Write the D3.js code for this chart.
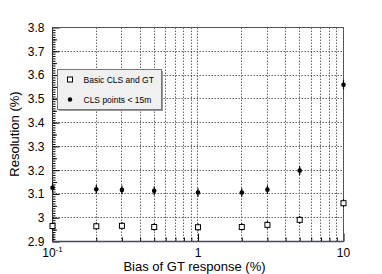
<!DOCTYPE html>
<html>
<head>
<meta charset="utf-8">
<script src="https://cdn.jsdelivr.net/npm/d3@7"></script>
<style>
  body { margin: 0; background: #fff; }
  svg { font-family: "Liberation Sans", Arial, sans-serif; }
</style>
</head>
<body>
<svg id="chart" width="382" height="274"></svg>
<script>
"use strict";

// ==========================
// data
// ==========================
var biasValues = [0.1, 0.2, 0.3, 0.5, 1, 2, 3, 5, 10];
var basicRes = [2.965, 2.964, 2.966, 2.961, 2.960, 2.961, 2.970, 2.991, 3.061];
var basicErr = [0.016, 0.016, 0.016, 0.016, 0.016, 0.016, 0.016, 0.016, 0.017];
var closeRes = [3.126, 3.120, 3.117, 3.113, 3.106, 3.106, 3.118, 3.198, 3.559];
var closeErr = [0.018, 0.018, 0.018, 0.018, 0.018, 0.018, 0.018, 0.018, 0.019];
var yTicks = [2.9, 3.0, 3.1, 3.2, 3.3, 3.4, 3.5, 3.6, 3.7, 3.8];
var legendLabels = ["Basic CLS and GT", "CLS points < 15m"];

// ==========================
// frame
// ==========================
var svg = d3.select("#chart"),
    margin = { top: 27, right: 39, bottom: 33, left: 52 },
    width = +svg.attr("width") - margin.left - margin.right,
    height = +svg.attr("height") - margin.top - margin.bottom,
    g = svg.append("g").attr("transform", "translate(" + (margin.left + 0.5) + "," + (margin.top + 0.5) + ")");

var x = d3.scaleLog().domain([0.1, 10]).range([0, width]),
    y = d3.scaleLinear().domain([2.9, 3.8]).range([height, 0]);

// every log tick between 0.1 and 10
var logTicks = [];
[0.1, 1].forEach(function (base) {
  for (var k = 1; k < 10; k++) logTicks.push(+(base * k).toFixed(2));
});
logTicks.push(10);

// grid
var grid = g.append("g").attr("class", "grid");
grid.selectAll("line.gx").data(logTicks.slice(1, -1)).enter().append("line")
  .attr("class", "gx")
  .attr("x1", function (d) { return Math.round(x(d)); }).attr("x2", function (d) { return Math.round(x(d)); })
  .attr("y1", 0).attr("y2", height);
grid.selectAll("line.gy").data(yTicks.slice(1, -1)).enter().append("line")
  .attr("class", "gy")
  .attr("x1", 0).attr("x2", width)
  .attr("y1", function (d) { return Math.round(y(d)); }).attr("y2", function (d) { return Math.round(y(d)); });
grid.selectAll("line")
  .style("stroke", "#666").style("stroke-width", "1px").style("stroke-dasharray", "1.5,1.5");

// y axis: ticks inside
var yMinor = d3.range(291, 380).map(function (d) { return d / 100; });
g.append("g").call(d3.axisLeft(y).tickValues(yMinor).tickSize(-3).tickFormat(""))
  .call(function (a) { a.select(".domain").remove(); });
g.append("g").call(d3.axisLeft(y).tickValues(yTicks.map(function (d) { return d + 0.05; }).slice(0, -1)).tickSize(-4.5).tickFormat(""))
  .call(function (a) { a.select(".domain").remove(); });
var yAxis = g.append("g").call(d3.axisLeft(y).tickValues(yTicks).tickSize(-7).tickPadding(8)
  .tickFormat(function (d) { return d3.format("~g")(d); }));
yAxis.select(".domain").remove();
yAxis.selectAll("text").style("font-size", "12px").attr("fill", "#000");

// x axis: ticks inside
var xAxis = g.append("g").attr("transform", "translate(0," + height + ")")
  .call(d3.axisBottom(x).tickValues(logTicks).tickSize(-4).tickFormat(""));
xAxis.select(".domain").remove();
xAxis.selectAll(".tick line").filter(function (d) { return d === 0.1 || d === 1 || d === 10; })
  .attr("y2", -8);

var xLabels = g.append("g").attr("transform", "translate(0," + (height + 15.5) + ")")
  .style("font-size", "12px").attr("text-anchor", "middle");
var lab = xLabels.append("text").attr("x", x(0.1));
lab.append("tspan").text("10");
lab.append("tspan").attr("dy", -5).style("font-size", "8px").text("-1");
xLabels.append("text").attr("x", x(1)).text("1");
xLabels.append("text").attr("x", x(10)).text("10");

// frame box
g.append("rect").attr("width", width).attr("height", height)
  .attr("fill", "none").attr("stroke", "#555").attr("stroke-width", 1);
g.append("line").attr("x1", 0).attr("x2", width).attr("y1", height).attr("y2", height)
  .attr("stroke", "#4a4a5a").attr("stroke-width", 1.5);
g.append("line").attr("x1", 0).attr("x2", 0).attr("y1", 0).attr("y2", height)
  .attr("stroke", "#333").attr("stroke-width", 1);

// titles
svg.append("text").attr("x", margin.left + width / 2 - 3).attr("y", 271)
  .attr("text-anchor", "middle").style("font-size", "13px").text("Bias of GT response (%)");
svg.append("text").attr("transform", "translate(19," + (margin.top + height / 2) + ") rotate(-90)")
  .attr("text-anchor", "middle").style("font-size", "13px").text("Resolution (%)");

// ==========================
// points
// ==========================
function errorBars(values, errs) {
  g.append("g").selectAll("line").data(biasValues).enter().append("line")
    .attr("x1", function (d) { return x(d); }).attr("x2", function (d) { return x(d); })
    .attr("y1", function (d, i) { return y(values[i] - errs[i]); })
    .attr("y2", function (d, i) { return y(values[i] + errs[i]); })
    .attr("stroke", "#000").attr("stroke-width", 1.2);
}
errorBars(basicRes, basicErr);
errorBars(closeRes, closeErr);

g.append("g").selectAll("rect").data(biasValues).enter().append("rect")
  .attr("x", function (d) { return x(d) - 2.5; })
  .attr("y", function (d, i) { return y(basicRes[i]) - 2.5; })
  .attr("width", 5).attr("height", 5)
  .attr("fill", "#fff").attr("stroke", "#000").attr("stroke-width", 1);

g.append("g").selectAll("circle").data(biasValues).enter().append("circle")
  .attr("cx", function (d) { return x(d); })
  .attr("cy", function (d, i) { return y(closeRes[i]); })
  .attr("r", 2.3).attr("fill", "#000");

// ==========================
// legend
// ==========================
var legend = svg.append("g").attr("transform", "translate(57.5,69.5)");
legend.append("rect").attr("x", 1.5).attr("y", 1.5).attr("width", 104).attr("height", 40).attr("fill", "#999");
legend.append("rect").attr("width", 104).attr("height", 40)
  .attr("fill", "#f0f0f0").attr("stroke", "#777").attr("stroke-width", 1);
legend.append("rect").attr("x", 10).attr("y", 7.5).attr("width", 5).attr("height", 5)
  .attr("fill", "#fff").attr("stroke", "#000");
legend.append("circle").attr("cx", 12.5).attr("cy", 30).attr("r", 2.2).attr("fill", "#000");
legend.selectAll("text.lbl").data(legendLabels).enter().append("text")
  .attr("x", 26).attr("y", function (d, i) { return 13 + i * 20; })
  .style("font-size", "8.5px").text(function (d) { return d; });
</script>
</body>
</html>
